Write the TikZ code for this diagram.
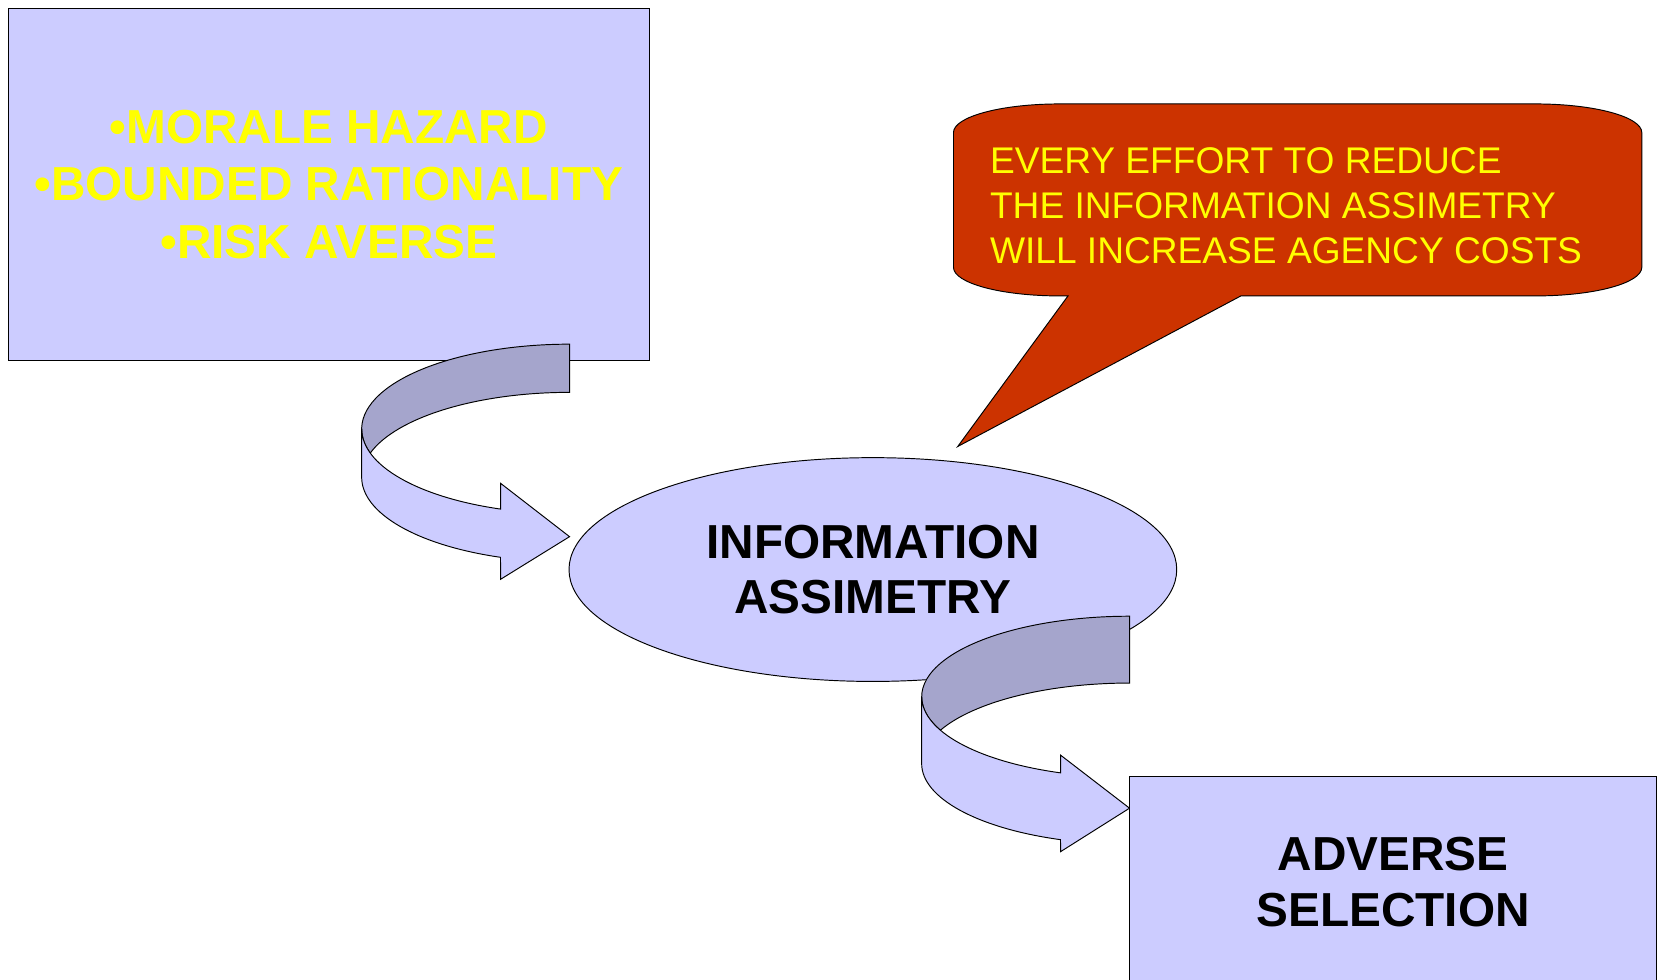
\documentclass[tikz,border=0pt]{standalone}
\usepackage{fontspec}
\setmainfont{Liberation Sans}
\usepackage{xcolor}
\usetikzlibrary{positioning,shapes.geometric}

\definecolor{boxblue}{HTML}{CCCCFF}
\definecolor{ribbondark}{HTML}{A5A5CC}
\definecolor{calloutred}{HTML}{CC3300}
\definecolor{textyellow}{HTML}{FFFF00}

\begin{document}
\begin{tikzpicture}[x=1pt, y=1pt, line width=0.9pt, line join=miter,
            box/.style={draw, fill=boxblue, inner sep=0pt, align=center},
            bigtext/.style={font=\bfseries\fontsize{45}{54.5}\selectfont},
            ribbon/.style={draw, fill=boxblue},
            ribbonback/.style={draw, fill=ribbondark},
            callout/.style={draw, fill=calloutred}]
            
            \useasboundingbox (0,0) rectangle (1568,-924);
            
            % causes
            \node[box, bigtext, text=textyellow, minimum width=604pt, minimum height=332pt] (causes) at (310,-174)
            {•MORALE HAZARD\\•BOUNDED RATIONALITY\\•RISK AVERSE};
            
            % first ribbon arrow
            \draw[ribbonback] (537,-324.5) arc[start angle=90, end angle=196.5, x radius=196pt, y radius=80pt]
            arc[start angle=163.5, end angle=90, x radius=196pt, y radius=80pt] -- cycle;
            \draw[ribbon] (341,-404.5) -- (341,-450) arc[start angle=180, end angle=250.6, x radius=196pt, y radius=80pt]
            -- (472,-546.2) -- (537,-506) -- (472,-455.7) -- (472,-480)
            arc[start angle=250.6, end angle=180, x radius=196pt, y radius=80pt] -- cycle;
            
            % information assimetry
            \node[box, ellipse, font=\bfseries\fontsize{45}{52}\selectfont, minimum width=573pt, minimum height=211pt] (info) at (823,-537)
            {INFORMATION\\ASSIMETRY};
            
            % second ribbon arrow
            \draw[ribbonback] (1065,-581) arc[start angle=90, end angle=204.5, x radius=196pt, y radius=76pt]
            arc[start angle=155.5, end angle=90, x radius=196pt, y radius=76pt] -- cycle;
            \draw[ribbon] (869,-657) -- (869,-720) arc[start angle=180, end angle=250.6, x radius=196pt, y radius=76pt]
            -- (1000,-803) -- (1065,-762) -- (1000,-712) -- (1000,-728.7)
            arc[start angle=250.6, end angle=180, x radius=196pt, y radius=76pt] -- cycle;
            
            % adverse selection
            \node[box, font=\bfseries\fontsize{45}{53}\selectfont, minimum width=497pt, minimum height=199pt] (adverse) at (1313.5,-831.4)
            {ADVERSE\\SELECTION};
            
            % speech bubble
            \draw[callout] (1007,-279) -- (903,-421) -- (1170,-279) -- (1448,-279)
            arc[start angle=270, end angle=360, x radius=100pt, y radius=27pt] -- (1548,-125)
            arc[start angle=0, end angle=90, x radius=100pt, y radius=27pt] -- (999,-98)
            arc[start angle=90, end angle=180, x radius=100pt, y radius=27pt] -- (899,-252)
            arc[start angle=180, end angle=270, x radius=100pt, y radius=27pt] -- cycle;
            \node[anchor=west, inner sep=0pt, align=left, text=textyellow, font=\fontsize{35}{42}\selectfont] (effort) at (933,-194)
            {EVERY EFFORT TO REDUCE\\THE INFORMATION ASSIMETRY\\WILL INCREASE AGENCY COSTS};
        \end{tikzpicture}
\end{document}
